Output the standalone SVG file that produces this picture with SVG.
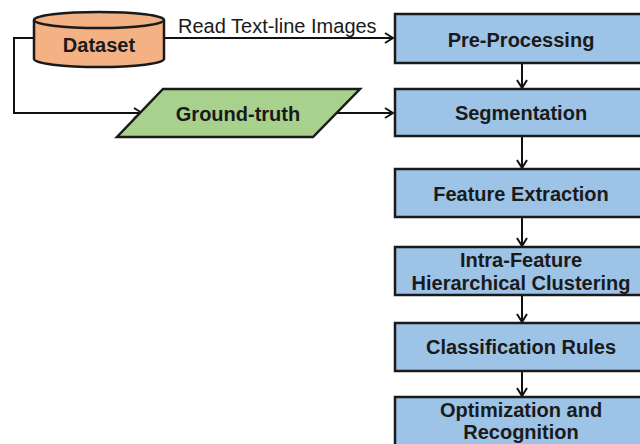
<svg xmlns="http://www.w3.org/2000/svg" width="640" height="444" viewBox="0 0 640 444">
<defs>
<style>
.box{fill:#9DC3E6;stroke:#1a1a1a;stroke-width:2.5}
.t{font-family:"Liberation Sans",Arial,sans-serif;font-weight:bold;font-size:20px;fill:#1a1a1a;text-anchor:middle}
.lbl{font-family:"Liberation Sans",Arial,sans-serif;font-size:20px;fill:#1a1a1a}
.ln{fill:none;stroke:#111;stroke-width:2}
</style>
<marker id="ah" viewBox="0 0 12 12" refX="11" refY="6" markerWidth="12" markerHeight="12" markerUnits="userSpaceOnUse" orient="auto">
<path d="M3,1 L11,6 L3,11" fill="none" stroke="#111" stroke-width="2"/>
</marker>
</defs>
<rect width="640" height="444" fill="#fff"/>
<g id="connectors">
<line class="ln" x1="164" y1="38" x2="393" y2="38" marker-end="url(#ah)"/>
<polyline class="ln" points="34,38 14,38 14,113 142,113" marker-end="url(#ah)"/>
<line class="ln" x1="336" y1="113" x2="393" y2="113" marker-end="url(#ah)"/>
<line class="ln" x1="522" y1="64" x2="522" y2="88" marker-end="url(#ah)"/>
<line class="ln" x1="522" y1="137" x2="522" y2="168" marker-end="url(#ah)"/>
<line class="ln" x1="522" y1="218" x2="522" y2="246" marker-end="url(#ah)"/>
<line class="ln" x1="522" y1="296" x2="522" y2="322" marker-end="url(#ah)"/>
<line class="ln" x1="522" y1="372" x2="522" y2="396" marker-end="url(#ah)"/>
<text class="lbl" x="178" y="33">Read Text-line Images</text>
</g>
<g id="dataset">
<path d="M34,20 L34,59 A65,8 0 0 0 164,59 L164,20" fill="#F4B183" stroke="#1a1a1a" stroke-width="2.5"/>
<ellipse cx="99" cy="20" rx="65" ry="8" fill="#F4B183" stroke="#1a1a1a" stroke-width="2.5"/>
<text class="t" x="99" y="52">Dataset</text>
</g>
<g id="ground-truth">
<polygon points="163,89 360,89 313,137 117,137" fill="#A9D18E" stroke="#1a1a1a" stroke-width="2.5"/>
<text class="t" x="238" y="121">Ground-truth</text>
</g>
<g id="pre-processing">
<rect class="box" x="395" y="14" width="260" height="49"/>
<text class="t" x="521" y="47">Pre-Processing</text>
</g>
<g id="segmentation">
<rect class="box" x="395" y="89" width="260" height="47"/>
<text class="t" x="521" y="120">Segmentation</text>
</g>
<g id="feature-extraction">
<rect class="box" x="395" y="169" width="260" height="48"/>
<text class="t" x="521" y="201">Feature Extraction</text>
</g>
<g id="clustering">
<rect class="box" x="395" y="247" width="260" height="48"/>
<text class="t" x="521" y="267">Intra-Feature</text>
<text class="t" x="521" y="290">Hierarchical Clustering</text>
</g>
<g id="classification">
<rect class="box" x="395" y="323" width="260" height="48"/>
<text class="t" x="521" y="354">Classification Rules</text>
</g>
<g id="optimization">
<rect class="box" x="395" y="397" width="260" height="60"/>
<text class="t" x="521" y="417">Optimization and</text>
<text class="t" x="521" y="439">Recognition</text>
</g>
</svg>
